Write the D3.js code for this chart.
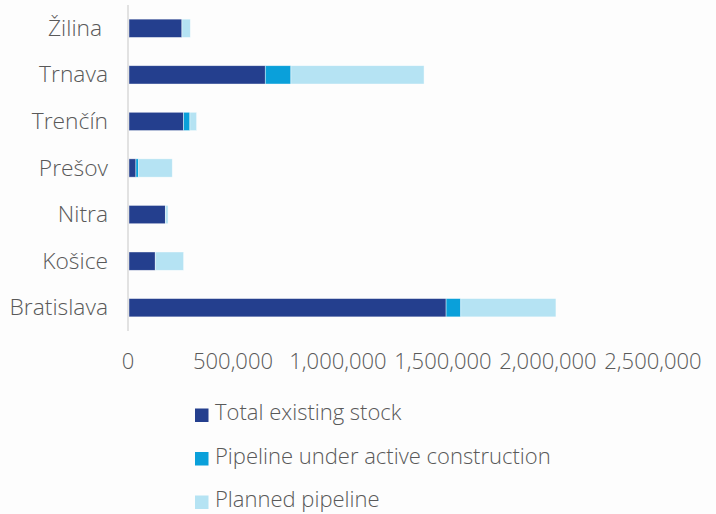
<!DOCTYPE html>
<html>
<head>
<meta charset="utf-8">
<script src="https://cdn.jsdelivr.net/npm/d3@7"></script>
<style>
  body { margin: 0; background: #fdfdfd; }
  svg { display: block; }
</style>
</head>
<body>
<svg id="chart" width="716" height="514"></svg>
<script>
// data
var cities = ["Žilina ", "Trnava", "Trenčín", "Prešov", "Nitra", "Košice", "Bratislava"];
var existing = [252000, 649000, 260000, 33000, 173000, 125000, 1510000];
var underConstruction = [0, 122000, 30000, 13000, 0, 0, 70000];
var planned = [40000, 634000, 32000, 160000, 13000, 135000, 453000];
var seriesNames = ["Total existing stock", "Pipeline under active construction", "Planned pipeline"];
var seriesColors = ["#243f8e", "#0aa0da", "#b5e3f3"];
var xTicks = [0, 500000, 1000000, 1500000, 2000000, 2500000];

var svg = d3.select("#chart");
var left = 128, right = 653;
var font = "'Open Sans', sans-serif";

var x = d3.scaleLinear().domain([0, 2500000]).range([left, right]);
var y = d3.scaleBand().domain(cities).range([5, 331]).paddingInner(0.607).paddingOuter(0.3035);

var rows = cities.map(function(c, i) {
    return {city: c, s0: existing[i], s1: underConstruction[i], s2: planned[i]};
});
var stack = d3.stack().keys(["s0", "s1", "s2"])(rows);

var bars_g = svg.append("g");
stack.forEach(function(layer, k) {
    bars_g.selectAll(null)
        .data(layer.filter(function(d) { return d[1] > d[0]; }))
        .enter().append("rect")
        .attr("x", function(d) { return x(d[0]) + 1; })
        .attr("y", function(d) { return y(d.data.city); })
        .attr("width", function(d) { return x(d[1]) - x(d[0]); })
        .attr("height", y.bandwidth())
        .attr("fill", seriesColors[k])
        .attr("stroke", "#ffffff")
        .attr("stroke-opacity", 0.6)
        .attr("stroke-width", 0.7);
});

// vertical category axis line
svg.append("line")
    .attr("x1", left).attr("x2", left)
    .attr("y1", 5).attr("y2", 331)
    .attr("stroke", "#d9d9d9")
    .attr("stroke-width", 1.5);

// category labels
svg.append("g").selectAll("text")
    .data(cities)
    .enter().append("text")
    .attr("x", 108)
    .attr("y", function(d) { return y(d) + y.bandwidth() / 2; })
    .attr("dy", "0.33em")
    .attr("text-anchor", "end")
    .style("white-space", "pre")
    .attr("font-family", font)
    .attr("font-weight", 300)
    .attr("font-size", 22.8)
    .attr("fill", "#595959")
    .text(function(d) { return d; });

// value axis labels
var fmt = d3.format(",");
svg.append("g").selectAll("text")
    .data(xTicks)
    .enter().append("text")
    .attr("x", function(d) { return x(d); })
    .attr("y", 369)
    .attr("text-anchor", "middle")
    .attr("font-family", font)
    .attr("font-weight", 300)
    .attr("font-size", 22)
    .attr("fill", "#595959")
    .text(function(d) { return fmt(d); });

// legend
var legend = svg.append("g").selectAll("g")
    .data(seriesNames)
    .enter().append("g")
    .attr("transform", function(d, i) { return "translate(195," + (413 + i * 43.5) + ")"; });
legend.append("rect")
    .attr("x", 0).attr("y", -4.5)
    .attr("width", 13.5).attr("height", 13.5)
    .attr("fill", function(d, i) { return seriesColors[i]; });
legend.append("text")
    .attr("x", 20)
    .attr("dy", "0.34em")
    .attr("font-family", font)
    .attr("font-weight", 300)
    .attr("font-size", 22)
    .attr("fill", "#595959")
    .text(function(d) { return d; });
</script>
</body>
</html>
